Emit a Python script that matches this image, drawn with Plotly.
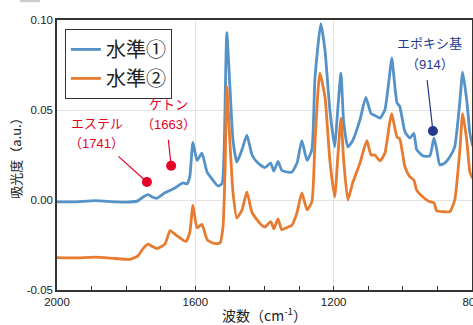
import plotly.graph_objects as go

# ---- data ----
wn_blue = [2000, 1948, 1890, 1832, 1789, 1766, 1751, 1737, 1723, 1711, 1688, 1659, 1636, 1624,
           1616, 1607, 1595, 1581, 1566, 1549, 1535, 1523, 1517, 1509, 1500, 1491, 1480, 1465,
           1451, 1436, 1419, 1399, 1382, 1373, 1361, 1350, 1332, 1321, 1306, 1292, 1277, 1263,
           1254, 1237, 1225, 1211, 1197, 1191, 1179, 1171, 1159, 1145, 1124, 1107, 1092, 1081,
           1066, 1052, 1038, 1032, 1017, 1009, 994, 980, 968, 960, 942, 922, 910, 902, 893,
           879, 864, 850, 835, 827, 815, 806, 798]
abs_blue = [-0.001, -0.001, -0.0004, -0.001, -0.0011, -0.0005, 0.0017, 0.003, 0.0015, 0.001,
            0.004, 0.0067, 0.0095, 0.009, 0.013, 0.032, 0.022, 0.026, 0.0155, 0.011, 0.0078,
            0.009, 0.026, 0.093, 0.063, 0.033, 0.021, 0.028, 0.036, 0.025, 0.0205, 0.018,
            0.0205, 0.016, 0.0215, 0.0165, 0.0155, 0.0155, 0.0205, 0.033, 0.022, 0.028, 0.068,
            0.098, 0.083, 0.050, 0.0295, 0.043, 0.0705, 0.043, 0.0295, 0.033, 0.0445, 0.057,
            0.048, 0.047, 0.0455, 0.050, 0.070, 0.079, 0.054, 0.052, 0.038, 0.0345, 0.037,
            0.028, 0.0245, 0.0245, 0.0345, 0.028, 0.0195, 0.0205, 0.024, 0.0295, 0.055, 0.071,
            0.055, 0.037, 0.030]

wn_orange = [2000, 1948, 1890, 1832, 1789, 1766, 1751, 1737, 1723, 1711, 1688, 1673, 1659, 1645,
             1627, 1616, 1607, 1595, 1581, 1566, 1549, 1529, 1520, 1514, 1509, 1500, 1491, 1480,
             1465, 1451, 1436, 1413, 1399, 1382, 1373, 1361, 1350, 1332, 1321, 1306, 1292, 1277,
             1263, 1254, 1240, 1225, 1211, 1197, 1188, 1179, 1171, 1159, 1145, 1124, 1104, 1092,
             1081, 1066, 1052, 1038, 1032, 1017, 1009, 994, 980, 968, 960, 942, 922, 910, 902,
             884, 864, 850, 835, 827, 815, 806, 798]
abs_orange = [-0.032, -0.0322, -0.0317, -0.0325, -0.033, -0.031, -0.027, -0.0245, -0.026, -0.027,
              -0.0245, -0.017, -0.019, -0.021, -0.023, -0.018, -0.003, -0.0155, -0.0135, -0.022,
              -0.024, -0.024, -0.015, 0.017, 0.063, 0.032, 0.004, -0.010, -0.0055, 0.0045,
              -0.007, -0.013, -0.015, -0.012, -0.016, -0.0105, -0.0165, -0.015, -0.014, -0.007,
              0.004, -0.0055, -0.001, 0.032, 0.0705, 0.057, 0.022, 0.0017, 0.024, 0.0455, 0.022,
              0.000, 0.0095, 0.0205, 0.033, 0.025, 0.025, 0.0217, 0.026, 0.043, 0.048, 0.035,
              0.034, 0.0185, 0.013, 0.011, 0.0055, 0.0017, -0.001, -0.0015, -0.006, -0.0065,
              -0.0065, 0.000, 0.028, 0.048, 0.033, 0.0155, 0.012]

series_names = ["水準①", "水準②"]

# annotated bands
mark_names = ["エステル", "ケトン", "エポキシ基"]
mark_labels = ["（1741）", "（1663）", "（914）"]
mark_wn = [1740, 1670, 913]
mark_val = [0.010, 0.019, 0.0383]

x_ticks = [2000, 1600, 1200, 800]
y_ticks = [-0.05, 0.00, 0.05, 0.10]
y_ticklabels = ["-0.05", "0.00", "0.05", "0.10"]

BLUE = "#5592c8"
ORANGE = "#e77b30"
RED = "#e60028"
NAVY = "#23398c"
JP = "Noto Sans CJK JP"

fig = go.Figure()
fig.add_trace(go.Scatter(x=wn_blue, y=abs_blue, mode="lines", name=series_names[0],
                         line=dict(color=BLUE, width=2.8, shape="spline", smoothing=0.5)))
fig.add_trace(go.Scatter(x=wn_orange, y=abs_orange, mode="lines", name=series_names[1],
                         line=dict(color=ORANGE, width=2.8, shape="spline", smoothing=0.5)))

mark_colors = [RED, RED, NAVY]
fig.add_trace(go.Scatter(x=mark_wn, y=mark_val, mode="markers", showlegend=False,
                         marker=dict(size=10, color=mark_colors)))

# leader lines and labels (pixel offsets)
line_off = [(-30, -27), (-3, -28), (-6, -53)]
name_off = [(-50, 60), (-3, 62), (-3, 89)]
lab_off = [(-50, 39), (-3, 41), (-3, 67)]
for i in range(3):
    c = mark_colors[i]
    fig.add_annotation(x=mark_wn[i], y=mark_val[i], text=" ", showarrow=True,
                       ax=line_off[i][0], ay=line_off[i][1], arrowhead=0,
                       arrowwidth=1.2, arrowcolor=c, standoff=0, font=dict(size=1))
    fig.add_annotation(x=mark_wn[i], y=mark_val[i], text=mark_names[i], showarrow=False,
                       xshift=name_off[i][0], yshift=name_off[i][1],
                       font=dict(family=JP, size=13, color=c))
    fig.add_annotation(x=mark_wn[i], y=mark_val[i], text=mark_labels[i], showarrow=False,
                       xshift=lab_off[i][0], yshift=lab_off[i][1],
                       font=dict(family="Liberation Sans, " + JP, size=13, color=c))

# small gray bar at the top-left corner
fig.add_shape(type="rect", xref="paper", yref="paper", x0=-0.089, x1=-0.041, y0=1.066,
              y1=1.074, fillcolor="#cccccc", line_width=0)

fig.update_layout(
    width=473, height=325,
    margin=dict(l=57, r=1, t=20, b=35, autoexpand=False),
    paper_bgcolor="white", plot_bgcolor="white",
    font=dict(family="Liberation Sans, " + JP, color="#222222"),
    legend=dict(x=0.019, y=0.967, xanchor="left", yanchor="top",
                bordercolor="#333333", borderwidth=1, bgcolor="white",
                font=dict(family=JP, size=20, color="#222222"),
                itemwidth=30, tracegroupgap=0),
    showlegend=True,
)
fig.update_xaxes(
    range=[2000, 800], tickvals=x_ticks, ticktext=[str(v) for v in x_ticks],
    showgrid=True, gridcolor="#e3e3e3", gridwidth=1,
    showline=True, linecolor="#333333", linewidth=1.5, mirror=True,
    ticks="inside", ticklen=4, tickcolor="#333333", ticklabeloverflow="allow",
    minor=dict(dtick=100, ticks="inside", ticklen=4, tickcolor="#333333", showgrid=False),
    tickfont=dict(size=11.5, color="#222222"),
    title=dict(text="波数（cm<sup>-1</sup>）", font=dict(family=JP, size=14, color="#222222"),
               standoff=6),
    zeroline=False, automargin=False,
)
fig.update_yaxes(
    range=[-0.05, 0.10], tickvals=y_ticks, ticktext=y_ticklabels,
    showgrid=True, gridcolor="#e3e3e3", gridwidth=1,
    showline=True, linecolor="#333333", linewidth=1.5, mirror=True,
    ticks="", tickfont=dict(size=11.5, color="#222222"),
    title=dict(text="吸光度（a.u.）", font=dict(family=JP, size=13, color="#222222"),
               standoff=2),
    zeroline=False, automargin=False,
)

fig.write_html("out.html", config={"displayModeBar": False},
               post_script="document.body.style.margin='0';document.body.style.overflow='hidden';")
